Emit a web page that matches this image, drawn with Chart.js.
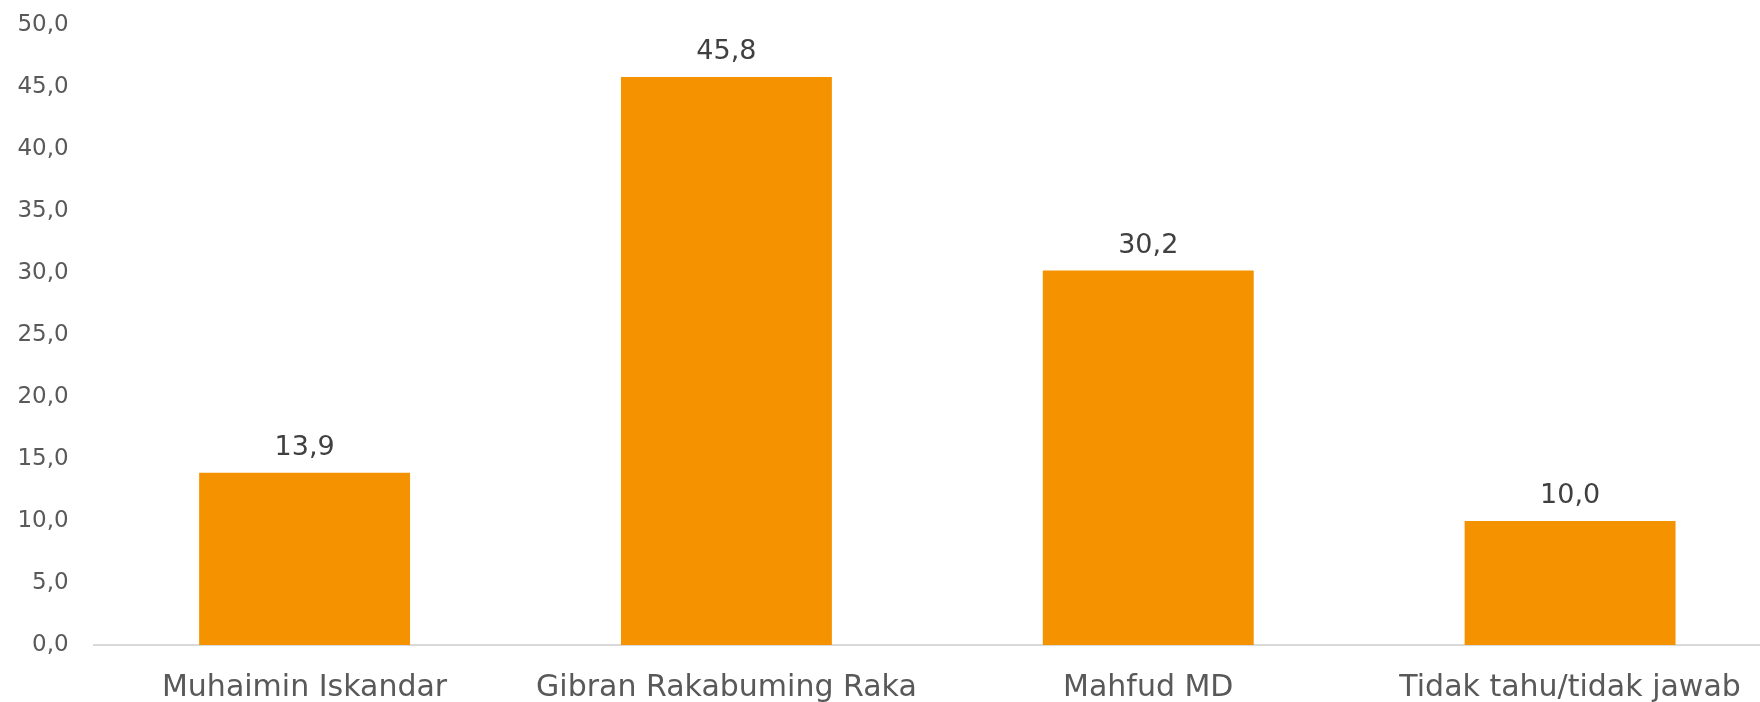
<!DOCTYPE html>
<html>
<head>
<meta charset="utf-8">
<script src="https://cdn.jsdelivr.net/npm/chart.js@4"></script>
<style>
html,body{margin:0;padding:0;overflow:hidden;background:#fff;width:1760px;height:702px;}
#wrap{position:absolute;left:0;top:0;width:1781px;height:702px;}
</style>
</head>
<body>
<div id="wrap"><canvas id="c" width="1781" height="702"></canvas></div>
<script>
const categories = ["Muhaimin Iskandar", "Gibran Rakabuming Raka", "Mahfud MD", "Tidak tahu/tidak jawab"];
const values = [13.9, 45.8, 30.2, 10.0];
const yMin = 0, yMax = 50, yStep = 5;

const fmt = v => Number(v).toFixed(1).replace('.', ',');

const valueLabels = {
  id: 'valueLabels',
  afterDatasetsDraw(chart) {
    const ctx = chart.ctx;
    const meta = chart.getDatasetMeta(0);
    ctx.save();
    ctx.font = '27px "DejaVu Sans"';
    ctx.fillStyle = '#404040';
    ctx.textAlign = 'center';
    ctx.textBaseline = 'alphabetic';
    meta.data.forEach((bar, i) => {
      ctx.fillText(fmt(values[i]), bar.x, bar.y - 18);
    });
    ctx.restore();
  }
};

new Chart(document.getElementById('c'), {
  type: 'bar',
  data: {
    labels: categories,
    datasets: [{
      data: values,
      backgroundColor: '#F59200',
      barPercentage: 0.5,
      categoryPercentage: 1.0
    }]
  },
  options: {
    responsive: false,
    animation: false,
    layout: { padding: { top: 25, right: 0, left: 0, bottom: 0 } },
    plugins: { legend: { display: false }, tooltip: { enabled: false } },
    scales: {
      x: {
        grid: { display: false, drawTicks: false },
        border: { display: true, color: '#D9D9D9', width: 2 },
        ticks: {
          color: '#595959',
          font: { family: 'DejaVu Sans', size: 30 },
          padding: 25,
          maxRotation: 0,
          autoSkip: false
        },
        afterFit: s => { s.height = 57; s.paddingLeft = 0; s.paddingRight = 0; }
      },
      y: {
        min: yMin, max: yMax,
        grid: { display: false, drawTicks: false },
        border: { display: false },
        ticks: {
          stepSize: yStep,
          color: '#595959',
          font: { family: 'DejaVu Sans', size: 23 },
          padding: 25,
          callback: v => fmt(v)
        },
        afterFit: s => { s.width = 93.67; s.paddingTop = 0; s.paddingBottom = 0; }
      }
    }
  },
  plugins: [valueLabels]
});
</script>
</body>
</html>
